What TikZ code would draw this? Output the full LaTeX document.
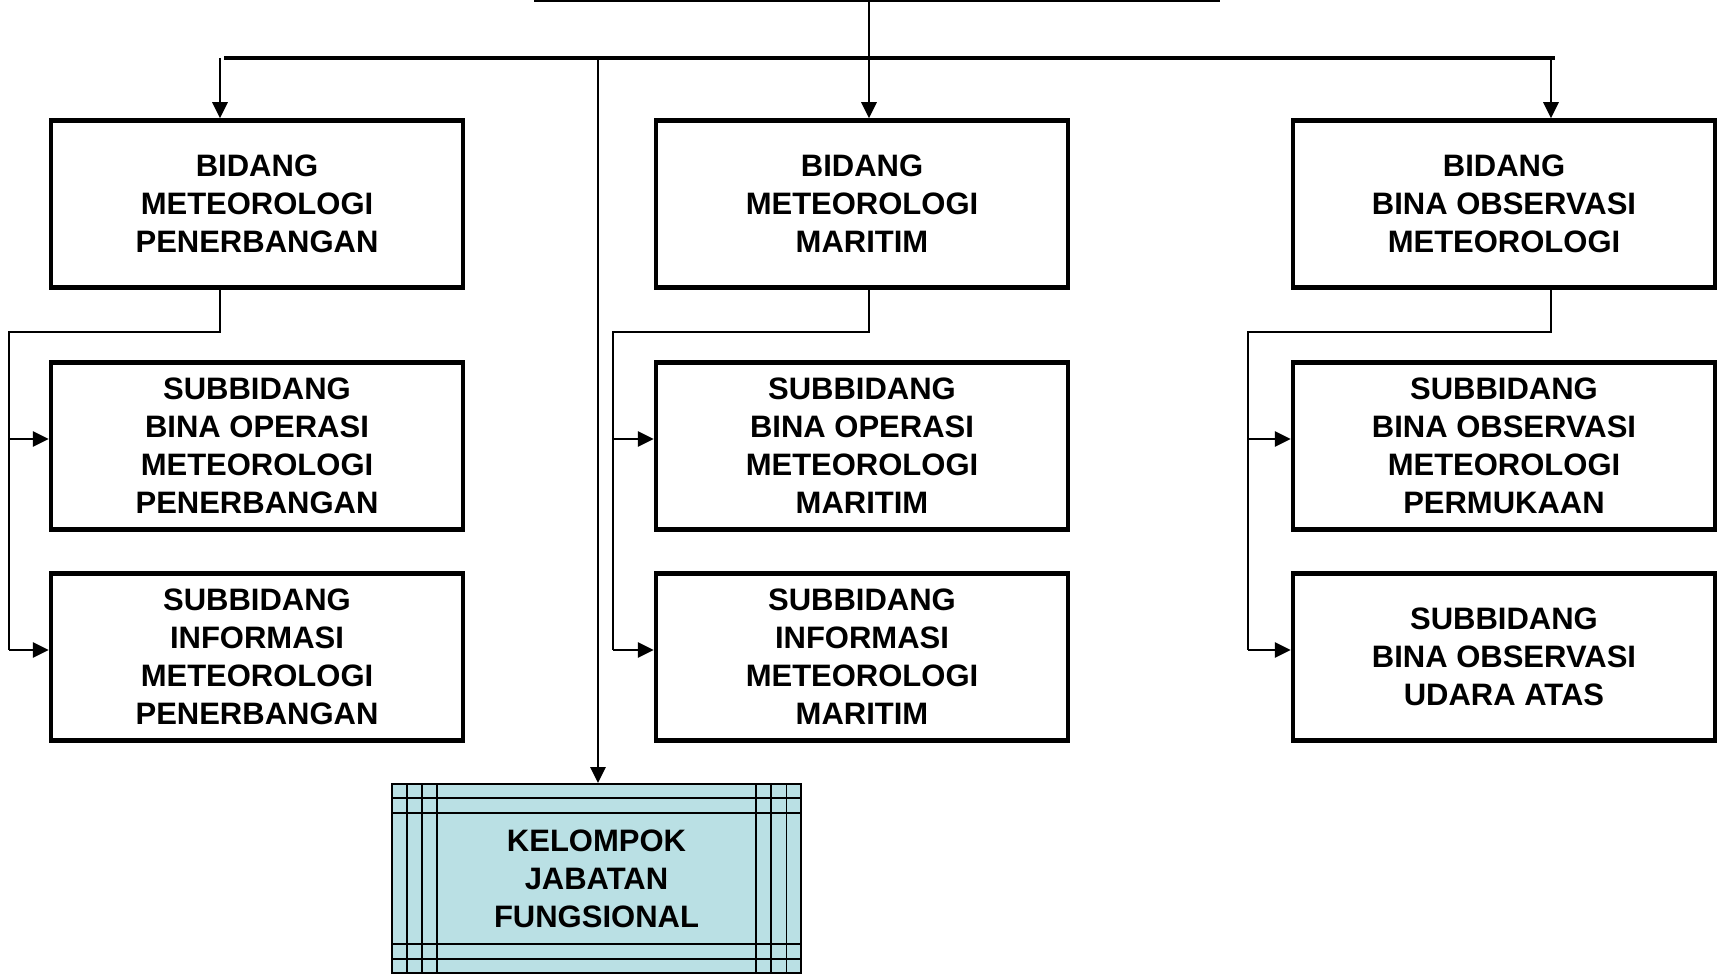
\documentclass[tikz,border=0pt]{standalone}
\usepackage{fontspec}
\setmainfont{Liberation Sans}
\usepackage{tikz}
\usetikzlibrary{arrows.meta}
\definecolor{jfblue}{RGB}{186,224,228}

\begin{document}
\begin{tikzpicture}[x=1pt, y=-1pt,
	BoxStyle/.style = {shape=rectangle, draw, line width=4.5pt, minimum width=412pt, minimum height=167pt, inner sep=0pt, align=center, font=\fontsize{31}{38}\selectfont\bfseries},
	WideBox/.style = {BoxStyle, minimum width=422pt},
	GroupStyle/.style = {shape=rectangle, draw, line width=1.8pt, fill=jfblue, minimum width=409pt, minimum height=189pt, inner sep=0pt, align=center, font=\fontsize{31}{38}\selectfont\bfseries},
	GridLine/.style = {line width=1.8pt},
	LineStyle/.style = {line width=2.8pt},
	ArrowStyle/.style = {LineStyle, -{Triangle[length=16pt,width=15pt]}}]
			\useasboundingbox (0,0) rectangle (1717,976);

			\node[BoxStyle] (B1) at (257,204) {BIDANG\\METEOROLOGI\\PENERBANGAN};
			\node[BoxStyle] (B2) at (862,204) {BIDANG\\METEOROLOGI\\MARITIM};
			\node[WideBox] (B3) at (1504,204) {BIDANG\\BINA OBSERVASI\\METEOROLOGI};

			\node[BoxStyle] (S11) at (257,446) {SUBBIDANG\\BINA OPERASI\\METEOROLOGI\\PENERBANGAN};
			\node[BoxStyle] (S12) at (257,657) {SUBBIDANG\\INFORMASI\\METEOROLOGI\\PENERBANGAN};
			\node[BoxStyle] (S21) at (862,446) {SUBBIDANG\\BINA OPERASI\\METEOROLOGI\\MARITIM};
			\node[BoxStyle] (S22) at (862,657) {SUBBIDANG\\INFORMASI\\METEOROLOGI\\MARITIM};
			\node[WideBox] (S31) at (1504,446) {SUBBIDANG\\BINA OBSERVASI\\METEOROLOGI\\PERMUKAAN};
			\node[WideBox] (S32) at (1504,657) {SUBBIDANG\\BINA OBSERVASI\\UDARA ATAS};

			\node[GroupStyle] (JF) at (596.5,878.5) {};
			\foreach \d in {15.5,31,46} {
				\draw[GridLine] ([xshift=\d pt]JF.north west) -- ([xshift=\d pt]JF.south west);
				\draw[GridLine] ([xshift=-\d pt]JF.north east) -- ([xshift=-\d pt]JF.south east);
			}
			\foreach \d in {15,30} {
				\draw[GridLine] ([yshift=-\d pt]JF.north west) -- ([yshift=-\d pt]JF.north east);
				\draw[GridLine] ([yshift=\d pt]JF.south west) -- ([yshift=\d pt]JF.south east);
			}
			\node[font=\fontsize{31}{38}\selectfont\bfseries, align=center] (JFtext) at (JF.center) {KELOMPOK\\JABATAN\\FUNGSIONAL};

			% top line and bus
			\coordinate (top) at (869,1);
			\coordinate (busL) at (224,58);
			\coordinate (busR) at (1555,58);
			\coordinate (d1) at (220,58);
			\coordinate (d2) at (869,58);
			\coordinate (d3) at (1551,58);
			\coordinate (dJ) at (598,58);
			\draw[line width=3pt] (534,1) -- (1220,1);
			\draw[line width=4pt] (busL) -- (busR);

			\draw[ArrowStyle] (top) -- (d2 |- B2.north);
			\draw[ArrowStyle] (d1) -- (d1 |- B1.north);
			\draw[ArrowStyle] (d3) -- (d3 |- B3.north);
			\draw[ArrowStyle] (dJ) -- (dJ |- JF.north);

			% spines to the subfields
			\coordinate (k1) at (9,332);
			\coordinate (k2) at (613,332);
			\coordinate (k3) at (1248,332);
			\draw[LineStyle] (d1 |- B1.south) -- (d1 |- k1) -- (k1) -- (9,650);
			\draw[LineStyle] (d2 |- B2.south) -- (d2 |- k2) -- (k2) -- (613,650);
			\draw[LineStyle] (d3 |- B3.south) -- (d3 |- k3) -- (k3) -- (1248,650);

			\draw[ArrowStyle] (9,439) -- (S11.west |- 0,439);
			\draw[ArrowStyle] (9,650) -- (S12.west |- 0,650);
			\draw[ArrowStyle] (613,439) -- (S21.west |- 0,439);
			\draw[ArrowStyle] (613,650) -- (S22.west |- 0,650);
			\draw[ArrowStyle] (1248,439) -- (S31.west |- 0,439);
			\draw[ArrowStyle] (1248,650) -- (S32.west |- 0,650);
\end{tikzpicture}
\end{document}
